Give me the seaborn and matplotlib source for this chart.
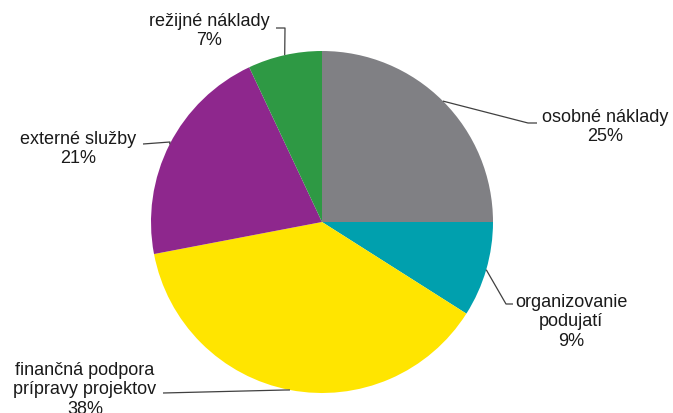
import numpy as np
import matplotlib
matplotlib.use("Agg")
import matplotlib.pyplot as plt
import seaborn as sns

# cost categories and their shares (%)
categories = [
    "osobné náklady",
    "organizovanie\npodujatí",
    "finančná podpora\nprípravy projektov",
    "externé služby",
    "režijné náklady",
]
shares = [25, 9, 38, 21, 7]
colors = ["#808084", "#00A0AE", "#FFE500", "#8E278D", "#2E9944"]

# label placement (pixel coords, y down): text centre, elbow point, line end
label_pos = [(605, 127), (571, 322), (85, 390), (78, 149), (209, 31)]
elbow_pos = [(528, 123), (506, 304), (285, 390), (170, 142), (285, 28)]
line_end = [(537, 123), (513, 304), (163, 393), (143, 144), (276, 28)]

sns.set_theme(style="white")
plt.rcParams["font.family"] = ["Liberation Sans", "DejaVu Sans"]

W, H = 673, 413
fig = plt.figure(figsize=(W / 100, H / 100), dpi=100)
ax = fig.add_axes([0, 0, 1, 1])

cx, cy, r = 322, H - 222, 171
wedges, _ = ax.pie(shares, colors=colors, startangle=90, counterclock=False,
                   center=(cx, cy), radius=r, frame=True,
                   wedgeprops=dict(linewidth=0))
ax.set_xlim(0, W)
ax.set_ylim(0, H)
ax.set_aspect("equal")
ax.axis("off")

for w, lab, val, tp, ep, le in zip(wedges, categories, shares, label_pos, elbow_pos, line_end):
    mid = np.deg2rad((w.theta1 + w.theta2) / 2)
    sx, sy = cx + r * np.cos(mid), cy + r * np.sin(mid)
    ax.plot([sx, ep[0], le[0]], [sy, H - ep[1], H - le[1]], color="#404040", lw=0.9,
            solid_capstyle="butt")
    ax.text(tp[0], H - tp[1], f"{lab}\n{val}%", ha="center", va="center",
            fontsize=13, color="#1a1a1a", linespacing=1.2)

fig.savefig("out.png", dpi=100)
